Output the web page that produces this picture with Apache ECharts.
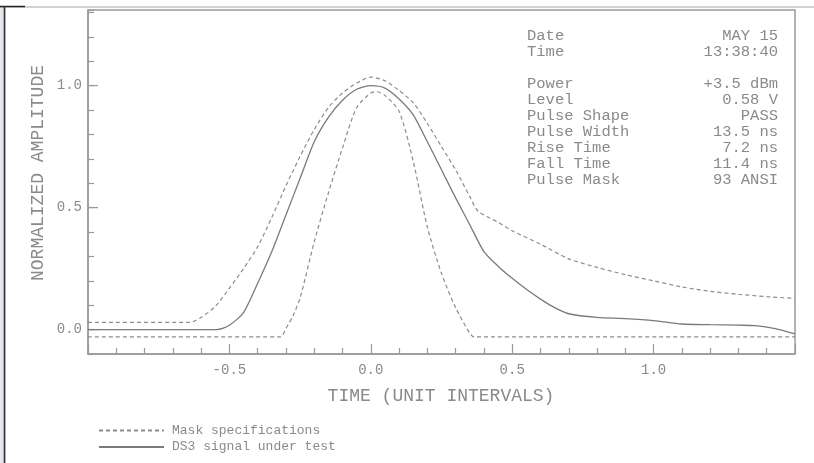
<!DOCTYPE html>
<html>
<head>
<meta charset="utf-8">
<script src="https://cdn.jsdelivr.net/npm/echarts@6/dist/echarts.min.js"></script>
<style>html,body{margin:0;padding:0;background:#fff;}#c{width:814px;height:463px;}</style>
</head>
<body>
<div id="c"></div>
<script>
// ---- data ----
const maskUpperT = [-1.0, -0.64, -0.6, -0.55, -0.5, -0.45, -0.4, -0.35, -0.3, -0.25, -0.2, -0.15, -0.1, -0.05, 0.0, 0.05, 0.1, 0.15, 0.2, 0.25, 0.3, 0.35, 0.38, 0.45, 0.5, 0.6, 0.7, 0.8, 0.9, 1.0, 1.1, 1.2, 1.3, 1.4, 1.5];
const maskUpperV = [0.03, 0.03, 0.05, 0.095, 0.17, 0.25, 0.34, 0.46, 0.59, 0.71, 0.82, 0.91, 0.97, 1.01, 1.035, 1.02, 0.98, 0.93, 0.845, 0.75, 0.655, 0.545, 0.485, 0.44, 0.405, 0.35, 0.29, 0.255, 0.225, 0.2, 0.175, 0.157, 0.145, 0.135, 0.128];

const maskLowerT = [-1.0, -0.32, -0.3, -0.275, -0.25, -0.2, -0.15, -0.1, -0.05, 0.0, 0.02, 0.05, 0.1, 0.15, 0.2, 0.25, 0.3, 0.35, 0.365, 1.5];
const maskLowerV = [-0.03, -0.03, 0.005, 0.057, 0.13, 0.36, 0.56, 0.745, 0.91, 0.97, 0.975, 0.96, 0.895, 0.69, 0.42, 0.23, 0.09, -0.015, -0.03, -0.03];

const signalT = [-1.0, -0.545, -0.5, -0.45, -0.4, -0.35, -0.3, -0.25, -0.2, -0.15, -0.1, -0.05, 0.0, 0.05, 0.1, 0.15, 0.2, 0.25, 0.3, 0.35, 0.4, 0.45, 0.5, 0.55, 0.6, 0.65, 0.7, 0.8, 0.9, 1.0, 1.1, 1.2, 1.3, 1.36, 1.43, 1.5];
const signalV = [0.0, 0.0, 0.018, 0.07, 0.19, 0.32, 0.47, 0.62, 0.77, 0.87, 0.94, 0.985, 1.0, 0.99, 0.945, 0.88, 0.77, 0.655, 0.54, 0.43, 0.32, 0.26, 0.21, 0.165, 0.125, 0.09, 0.065, 0.05, 0.045, 0.037, 0.023, 0.02, 0.018, 0.016, 0.004, -0.018];

const yMajorTicks = [0.0, 0.5, 1.0];

const infoLabels = ['Date', 'Time', '', 'Power', 'Level', 'Pulse Shape', 'Pulse Width', 'Rise Time', 'Fall Time', 'Pulse Mask'];
const infoValues = ['MAY 15', '13:38:40', '', '+3.5 dBm', '0.58 V', 'PASS', '13.5 ns', '7.2 ns', '11.4 ns', '93 ANSI'];

const seriesNames = ['Mask specifications', 'DS3 signal under test'];
const xTitle = 'TIME (UNIT INTERVALS)';
const yTitle = 'NORMALIZED AMPLITUDE';

// ---- chart ----
const FONT = '"Liberation Mono", "DejaVu Sans Mono", monospace';
const GREY = '#8a8a8a';
const AXIS = '#9a9a9a';
const X_MIN = -1.0, X_MAX = 1.5, Y_MIN = -0.1, Y_MAX = 1.31;

const zip = (a, b) => a.map((t, i) => [t, b[i]]);

const chart = echarts.init(document.getElementById('c'), null, {renderer: 'canvas'});

const graphics = [
  {type: 'rect', shape: {x: 0, y: 7, width: 3, height: 456}, style: {fill: '#e4e6ef'}, silent: true},
  {type: 'line', shape: {x1: 0, y1: 7, x2: 814, y2: 7}, style: {stroke: '#a8a8a8', lineWidth: 1.2}, silent: true},
  {type: 'line', shape: {x1: 0, y1: 6.5, x2: 25, y2: 6.5}, style: {stroke: '#222', lineWidth: 1.5}, silent: true},
  {type: 'line', shape: {x1: 4.5, y1: 6, x2: 4.5, y2: 463}, style: {stroke: '#333', lineWidth: 1.8}, silent: true},
  {type: 'text', x: 38, y: 173, rotation: Math.PI / 2, silent: true,
    style: {text: yTitle, font: '18px ' + FONT, fill: GREY, align: 'center', verticalAlign: 'middle', textAlign: 'center', textVerticalAlign: 'middle'}},
  {type: 'text', x: 441, y: 396, silent: true,
    style: {text: xTitle, font: '18px ' + FONT, fill: GREY, align: 'center', verticalAlign: 'middle', textAlign: 'center', textVerticalAlign: 'middle'}}
];
infoLabels.forEach((lab, i) => {
  if (!lab) return;
  const y = 28.3 + i * 16;
  graphics.push({type: 'text', x: 527, y: y, silent: true,
    style: {text: lab, font: '15.5px ' + FONT, fill: GREY, align: 'left', verticalAlign: 'alphabetic', textAlign: 'left', textBaseline: 'alphabetic'}});
  graphics.push({type: 'text', x: 778, y: y, silent: true,
    style: {text: infoValues[i], font: '15.5px ' + FONT, fill: GREY, align: 'right', verticalAlign: 'alphabetic', textAlign: 'right', textBaseline: 'alphabetic'}});
});

const isHalf = v => Math.abs(v * 2 - Math.round(v * 2)) < 1e-6;

chart.setOption({
  animation: false,
  backgroundColor: '#fff',
  grid: {left: 88, top: 10, right: 19, bottom: 109, show: true, borderColor: AXIS, borderWidth: 1.5, containLabel: false},
  xAxis: {
    type: 'value', min: X_MIN, max: X_MAX, interval: 0.5,
    axisLine: {show: true, onZero: false, lineStyle: {color: AXIS, width: 1.5}},
    axisTick: {show: true, inside: true, length: 10, lineStyle: {color: AXIS, width: 1.2}},
    minorTick: {show: true, splitNumber: 5, length: 6, lineStyle: {color: AXIS, width: 1.2}},
    splitLine: {show: false}, minorSplitLine: {show: false},
    axisLabel: {show: true, showMinLabel: false, showMaxLabel: false, margin: 9,
      fontFamily: FONT, fontSize: 14, color: GREY,
      formatter: v => (Math.abs(v) < 1e-9 ? 0 : v).toFixed(1)}
  },
  yAxis: {
    type: 'value', min: Y_MIN, max: Y_MAX, interval: 0.1,
    axisLine: {show: true, onZero: false, lineStyle: {color: AXIS, width: 1.5}},
    axisTick: {show: true, inside: true, length: 6, lineStyle: {color: AXIS, width: 1.2}},
    splitLine: {show: false},
    axisLabel: {show: true, margin: 6, fontFamily: FONT, fontSize: 14, color: GREY,
      formatter: v => (isHalf(v) && v > -0.05 && v < 1.25) ? (Math.abs(v) < 1e-9 ? 0 : v).toFixed(1) : ''}
  },
  legend: {
    data: seriesNames, orient: 'vertical', left: 98, top: 423, padding: 0,
    itemWidth: 65, itemHeight: 14, itemGap: 3,
    itemStyle: {opacity: 0},
    textStyle: {fontFamily: FONT, fontSize: 13, color: GREY, padding: [0, 0, 0, 3]},
    selectedMode: false
  },
  graphic: graphics,
  series: [
    {name: seriesNames[0], type: 'line', data: zip(maskUpperT, maskUpperV), symbol: 'none', smooth: 0.25,
      lineStyle: {color: '#8c8c8c', width: 1.2, type: [4, 3]}, itemStyle: {color: '#8c8c8c'}, silent: true},
    {name: seriesNames[0], type: 'line', data: zip(maskLowerT, maskLowerV), symbol: 'none', smooth: 0.25,
      lineStyle: {color: '#8c8c8c', width: 1.2, type: [4, 3]}, itemStyle: {color: '#8c8c8c'}, silent: true},
    {name: seriesNames[1], type: 'line', data: zip(signalT, signalV), symbol: 'none', smooth: 0.25,
      lineStyle: {color: '#7a7a7a', width: 1.3, type: 'solid'}, itemStyle: {color: '#7a7a7a'}, silent: true},
    {type: 'custom', silent: true, z: 3,
      data: yMajorTicks.map(v => [X_MIN, v]),
      renderItem: (params, api) => {
        const p = api.coord([api.value(0), api.value(1)]);
        return {type: 'line', shape: {x1: p[0], y1: p[1], x2: p[0] + 10, y2: p[1]}, style: {stroke: AXIS, lineWidth: 1.2}};
      }}
  ]
}, true);
chart.setOption({legend: {top: 424, itemGap: 3.5}});
</script>
</body>
</html>
